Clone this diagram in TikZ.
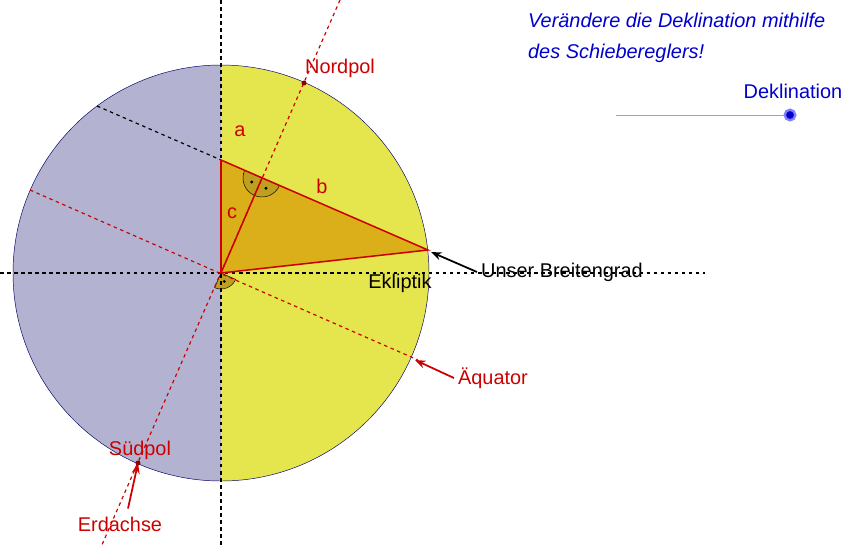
\documentclass[tikz,border=0pt]{standalone}
\usepackage{fontspec}
\setmainfont{Liberation Sans}
\usetikzlibrary{arrows.meta,positioning,calc}
\definecolor{erdgelb}{RGB}{229,229,77}
\definecolor{erdlila}{RGB}{179,179,209}
\definecolor{dreieck}{RGB}{218,175,25}
\definecolor{winkel}{RGB}{190,160,30}
\definecolor{rotlinie}{RGB}{204,0,0}
\tikzstyle{dashB} = [dashed, black, line width=1pt]
\tikzstyle{dashR} = [dashed, rotlinie, line width=1pt]
\tikzstyle{lineR} = [rotlinie, line width=1.3pt]
\tikzstyle{lblR} = [text=rotlinie, font=\fontsize{17}{20}\selectfont]
\tikzstyle{lblK} = [text=black, font=\fontsize{17}{20}\selectfont]
\tikzstyle{pfeilR} = [rotlinie, line width=1.5pt, -{Stealth[length=9pt]}]
\tikzstyle{pfeilK} = [black, line width=1.5pt, -{Stealth[length=9pt]}]
\tikzstyle{rwinkel} = [fill=winkel, draw=black, thin]
\begin{document}
\begin{tikzpicture}[x=0.03cm,y=-0.03cm]
        \useasboundingbox (0,0) rectangle (863,547);
        \coordinate (M) at (221,273);
        \coordinate (Q) at (221,160);
        \coordinate (F) at (262,178);
        \coordinate (B) at (428,250);
        \coordinate (NP) at (304,83);
        \coordinate (SP) at (138,463);

        % Erdkugel
        \begin{scope}
            \clip (0,0) rectangle (221,547);
            \fill[erdlila] (M) circle (208);
        \end{scope}
        \begin{scope}
            \clip (221,0) rectangle (863,547);
            \fill[erdgelb] (M) circle (208);
        \end{scope}
        \draw[blue!40!black, thin] (M) circle (208);

        \fill[dreieck] (Q) -- (B) -- (M) -- cycle;

        % rechte Winkel
        \draw[rwinkel] (F) -- ++(203.6:19) arc[start angle=203.6,end angle=23.6,radius=19] -- cycle;
        \fill ($(F)+(158.6:11)$) circle (1.6);
        \fill ($(F)+(68.6:11)$) circle (1.6);
        \draw[rwinkel] (M) -- ++(113.6:16) arc[start angle=113.6,end angle=23.6,radius=16] -- cycle;
        \fill ($(M)+(68.6:9)$) circle (1.6);

        % Hilfslinien
        \draw[dashB] (221,0) -- (221,547);
        \draw[dashB] (0,273) -- (705,273);
        \draw[dashB] (97,106) -- (Q);
        \draw[dashR] (340,0) -- (101,547);
        \draw[dashR] (30,190) -- (418,360);

        \draw[lineR] (Q) -- (B) -- (M) -- cycle;
        \draw[lineR] (M) -- (F);

        \fill[rotlinie!70!black] (NP) circle (2.5);
        \fill[rotlinie!70!black] (SP) circle (2.5);

        % Beschriftungen
        \node (a) [lblR] at (240,131) {a};
        \node (b) [lblR] at (322,186) {b};
        \node (c) [lblR] at (232,213) {c};
        \node (nord) [lblR] at (340,68) {Nordpol};
        \node (sued) [lblR] at (140,450) {Südpol};
        \node (achse) [lblR] at (120,524) {Erdachse};
        \node (aequ) [lblR] at (493,378) {Äquator};
        \node (ekl) [lblK] at (400,283) {Ekliptik};
        \node (breite) [lblK, anchor=west] at (477,272) {Unser Breitengrad};

        \draw[pfeilR] (achse.north) ++(8,-4) -- (SP);
        \draw[pfeilR] (aequ.west) -- (415,360);
        \draw[pfeilK] (breite.west) -- (431,252);

        % Schieberegler
        \node (titel) [anchor=west, text=blue!80!black, align=left, font=\itshape\fontsize{17}{26}\selectfont] at (524,38) {Verändere die Deklination mithilfe\\des Schiebereglers!};
        \node (dekl) [text=blue!80!black, font=\fontsize{17}{20}\selectfont] at (793,91) {Deklination};
        \coordinate (s0) at (616,115);
        \node (knopf) [circle, fill=blue!80!black, draw=blue!50, line width=2pt, inner sep=3.2pt] at (790,115) {};
        \draw[blue!40, thin] (s0) -- (knopf);
    \end{tikzpicture}
\end{document}
